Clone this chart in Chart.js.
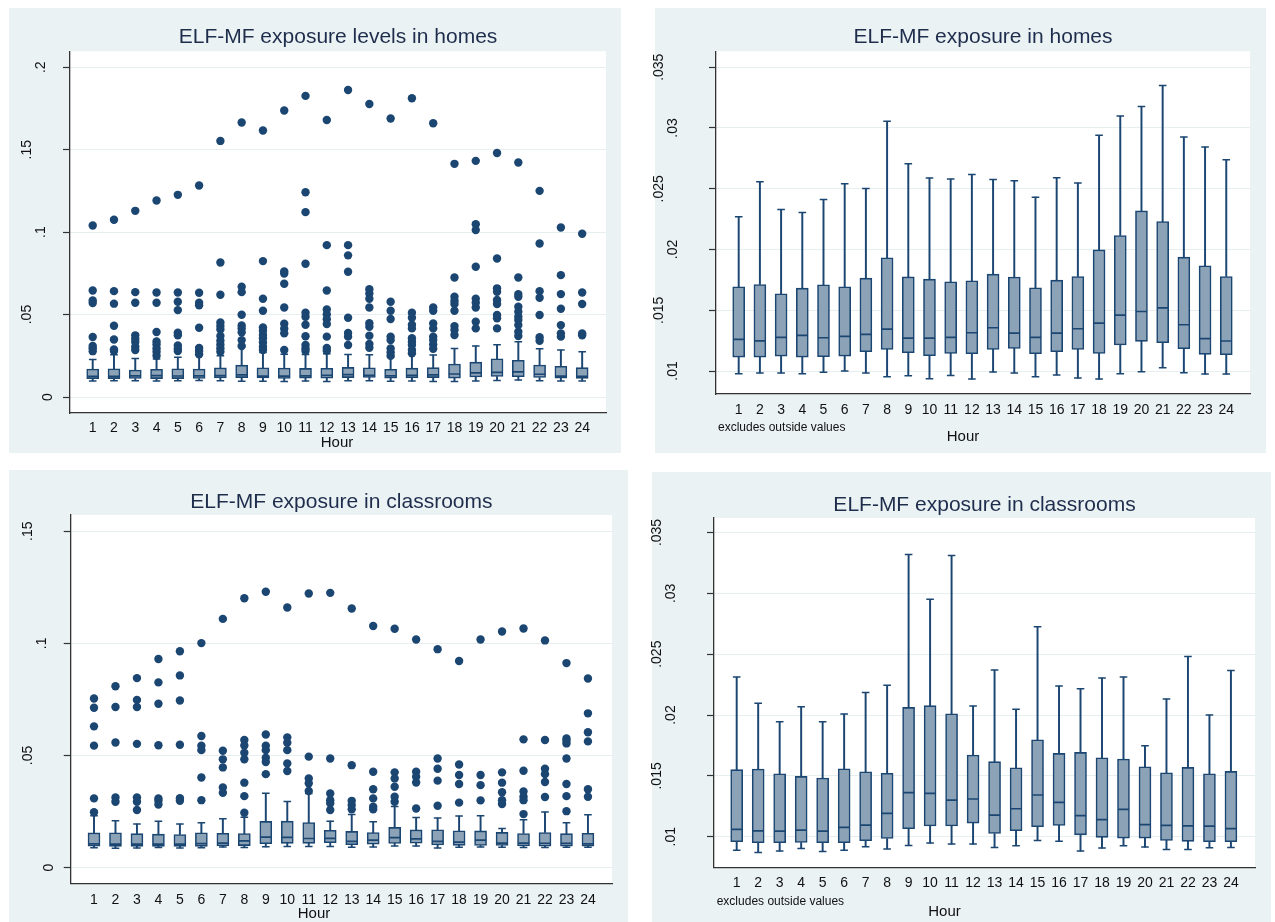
<!DOCTYPE html>
<html>
<head>
<meta charset="utf-8">
<title>ELF-MF exposure by hour</title>
<script src="https://cdn.jsdelivr.net/npm/chart.js@4.4.1/dist/chart.umd.min.js"></script>
<style>
  html, body { margin: 0; padding: 0; background: #ffffff; }
  body { position: relative; width: 1275px; height: 922px; overflow: hidden; }
  .panel { position: absolute; background: #eaf2f3; }
  .holder { position: absolute; }
  .holder canvas { display: block; }
</style>
</head>
<body>
<div class="panel" style="left:9px;top:8px;width:612px;height:445px"></div>
<div class="panel" style="left:655px;top:8px;width:611px;height:445px"></div>
<div class="panel" style="left:9px;top:470px;width:619px;height:452px"></div>
<div class="panel" style="left:652px;top:472px;width:619px;height:450px"></div>

<!-- the right-hand canvases start a little left of their panels so long y labels are not clipped -->
<div class="holder" style="left:9px;top:8px;width:612px;height:445px"><canvas id="homesAll"></canvas></div>
<div class="holder" style="left:643px;top:8px;width:623px;height:445px"><canvas id="homesBox"></canvas></div>
<div class="holder" style="left:9px;top:470px;width:619px;height:452px"><canvas id="classAll"></canvas></div>
<div class="holder" style="left:640px;top:472px;width:631px;height:450px"><canvas id="classBox"></canvas></div>

<script>
// ---- data ----

const hours = [1, 2, 3, 4, 5, 6, 7, 8, 9, 10, 11, 12, 13, 14, 15, 16, 17, 18, 19, 20, 21, 22, 23, 24];

const yTicksHomesAll = [0, 0.05, 0.1, 0.15, 0.2];
const yTicksClassAll = [0, 0.05, 0.1, 0.15];
const yTicksBox = [0.01, 0.015, 0.02, 0.025, 0.03, 0.035];

// homes: adjacent values, quartiles, median
const homesLow = [0.00978, 0.00984, 0.00984, 0.00978, 0.00989, 0.0100, 0.00984, 0.00953, 0.00962, 0.00937, 0.00964, 0.00934,
                  0.00992, 0.00984, 0.00953, 0.00967, 0.00942, 0.00934, 0.00978, 0.00995, 0.01027, 0.00986, 0.00975, 0.00975];
const homesQ1 = [0.01115, 0.01115, 0.01123, 0.01115, 0.01118, 0.01123, 0.01159, 0.01178, 0.01151, 0.01126, 0.01145, 0.01142,
                 0.01178, 0.01186, 0.01142, 0.01159, 0.01178, 0.01145, 0.01214, 0.01244, 0.01233, 0.01184, 0.01137, 0.01134];
const homesMedian = [0.0126, 0.01249, 0.01277, 0.01293, 0.01274, 0.01285, 0.01301, 0.01345, 0.01271, 0.01271, 0.01277, 0.01315,
                     0.01356, 0.01312, 0.01277, 0.01312, 0.01348, 0.01395, 0.0146, 0.0149, 0.0152, 0.01381, 0.01266, 0.01247];
const homesQ3 = [0.01693, 0.01712, 0.01636, 0.01682, 0.0171, 0.01693, 0.01764, 0.01932, 0.01775, 0.01756, 0.01734, 0.01743,
                 0.01797, 0.01773, 0.01685, 0.01748, 0.01778, 0.01997, 0.02115, 0.02318, 0.0223, 0.01937, 0.01866, 0.01778];
const homesHigh = [0.02269, 0.02558, 0.0233, 0.02305, 0.02412, 0.02541, 0.02503, 0.03055, 0.02706, 0.02588, 0.0258, 0.02618,
                   0.02577, 0.02566, 0.02431, 0.02591, 0.02547, 0.0294, 0.03099, 0.03176, 0.03349, 0.02926, 0.02843, 0.02739];
const homesOutside = [
  [0.104, 0.0646, 0.0585, 0.057, 0.0364, 0.031, 0.0295, 0.0278],
  [0.1075, 0.0642, 0.0566, 0.0432, 0.0349, 0.0289, 0.0279],
  [0.1129, 0.0636, 0.0572, 0.0374, 0.0354, 0.0333, 0.0305, 0.0285],
  [0.1192, 0.0634, 0.0572, 0.0394, 0.0337, 0.0319, 0.0295, 0.0275, 0.025],
  [0.1226, 0.0634, 0.0578, 0.0527, 0.039, 0.0374, 0.0313, 0.0293, 0.0279],
  [0.1283, 0.0632, 0.0572, 0.0556, 0.042, 0.0297, 0.0279, 0.0259],
  [0.1553, 0.0816, 0.062, 0.0452, 0.043, 0.041, 0.037, 0.0341, 0.0317, 0.0295, 0.0275],
  [0.1665, 0.0669, 0.0636, 0.0499, 0.0434, 0.0416, 0.0392, 0.0345, 0.0309],
  [0.1616, 0.0824, 0.0596, 0.0523, 0.0422, 0.0402, 0.0376, 0.0356, 0.0331, 0.0305, 0.0285],
  [0.1737, 0.0762, 0.0749, 0.0687, 0.0543, 0.0444, 0.0414, 0.0386, 0.0285],
  [0.1826, 0.1242, 0.1121, 0.0808, 0.0511, 0.0487, 0.0438, 0.0368, 0.0315, 0.0295, 0.0279],
  [0.168, 0.0921, 0.0646, 0.0531, 0.0501, 0.0471, 0.0442, 0.0366, 0.0297, 0.0281],
  [0.1862, 0.0921, 0.0859, 0.076, 0.0481, 0.0388, 0.0366, 0.0315],
  [0.1777, 0.0654, 0.0628, 0.0596, 0.0543, 0.0448, 0.0426, 0.0372, 0.0321, 0.0299],
  [0.1689, 0.0578, 0.0523, 0.0473, 0.0366, 0.0345, 0.0295, 0.0271, 0.025],
  [0.1812, 0.0511, 0.0481, 0.0438, 0.0416, 0.0356, 0.0335, 0.0315, 0.0285, 0.0265],
  [0.166, 0.0543, 0.0523, 0.0446, 0.0416, 0.0366, 0.0345, 0.0319, 0.0293],
  [0.1414, 0.0725, 0.0608, 0.0584, 0.0564, 0.0523, 0.043, 0.0406, 0.0376],
  [0.1432, 0.1048, 0.1012, 0.079, 0.0596, 0.0572, 0.0543, 0.0456, 0.0416],
  [0.148, 0.084, 0.0659, 0.0638, 0.0588, 0.0564, 0.0497, 0.0477, 0.0416],
  [0.1422, 0.0725, 0.0624, 0.0608, 0.0547, 0.0517, 0.0487, 0.0467, 0.0436, 0.0396, 0.037],
  [0.125, 0.0931, 0.0642, 0.0602, 0.0497, 0.0362, 0.0341],
  [0.1028, 0.0739, 0.0624, 0.0535, 0.0436, 0.0386, 0.0366],
  [0.099, 0.0634, 0.0564, 0.0386, 0.0374]
];

// classrooms: adjacent values, quartiles, median
const classLow = [0.0089, 0.00871, 0.00882, 0.00904, 0.00879, 0.0089, 0.00918, 0.00899, 0.00929, 0.00948, 0.0094, 0.0094,
                  0.00912, 0.00926, 0.0097, 0.00964, 0.00882, 0.00907, 0.00926, 0.00915, 0.00896, 0.00896, 0.0091, 0.00912];
const classQ1 = [0.00959, 0.00951, 0.00951, 0.00953, 0.00951, 0.00951, 0.00967, 0.00986, 0.01066, 0.01088, 0.01088, 0.01112,
                 0.01027, 0.01049, 0.01082, 0.01093, 0.01016, 0.00995, 0.00989, 0.00989, 0.0097, 0.00962, 0.00959, 0.00959];
const classMedian = [0.0106, 0.01049, 0.01047, 0.01055, 0.01047, 0.01077, 0.01096, 0.01192, 0.01362, 0.01356, 0.01301, 0.0131,
                     0.01178, 0.0123, 0.01343, 0.01282, 0.01173, 0.0114, 0.01225, 0.01099, 0.01093, 0.0109, 0.01088, 0.01066];
const classQ3 = [0.01551, 0.01556, 0.01518, 0.01496, 0.01482, 0.01559, 0.01534, 0.01521, 0.02063, 0.02077, 0.02011, 0.01671,
                 0.01617, 0.01567, 0.01797, 0.01685, 0.01693, 0.01649, 0.01638, 0.01575, 0.01526, 0.0157, 0.01518, 0.01537];
const classHigh = [0.02312, 0.02096, 0.01945, 0.02069, 0.01945, 0.02008, 0.02186, 0.02244, 0.0332, 0.02951, 0.0331, 0.02074,
                   0.0237, 0.02047, 0.02726, 0.02238, 0.02217, 0.02304, 0.02312, 0.01748, 0.02132, 0.0248, 0.02, 0.02365];
const classOutside = [
  [0.0754, 0.0713, 0.063, 0.0544, 0.0309, 0.0247],
  [0.0809, 0.0716, 0.0558, 0.0313, 0.0294],
  [0.0845, 0.0748, 0.0716, 0.0552, 0.0313, 0.0294, 0.0257],
  [0.093, 0.0826, 0.0731, 0.0546, 0.0309, 0.0298, 0.0282],
  [0.0965, 0.0857, 0.0745, 0.0548, 0.031, 0.0298],
  [0.1001, 0.0587, 0.0544, 0.0524, 0.0402, 0.0301],
  [0.1109, 0.0521, 0.0483, 0.0447, 0.0358, 0.0334],
  [0.1201, 0.0569, 0.0545, 0.0512, 0.0483, 0.0379, 0.0319, 0.0245],
  [0.123, 0.0594, 0.0544, 0.0524, 0.049, 0.0471, 0.0417],
  [0.116, 0.0581, 0.0557, 0.0524, 0.0465, 0.0431],
  [0.1222, 0.0495, 0.0398, 0.0376, 0.0342],
  [0.1225, 0.0487, 0.0331, 0.0301, 0.0287, 0.0257],
  [0.1155, 0.0457, 0.0298, 0.0279, 0.026],
  [0.1077, 0.0428, 0.035, 0.0309, 0.0272, 0.026],
  [0.1065, 0.0425, 0.0398, 0.0361, 0.0316, 0.0294],
  [0.1017, 0.0428, 0.0405, 0.038, 0.0264],
  [0.0974, 0.0487, 0.0441, 0.0388, 0.0276],
  [0.0921, 0.046, 0.0413, 0.0373, 0.029],
  [0.1017, 0.0413, 0.0368, 0.03],
  [0.1053, 0.0425, 0.0379, 0.0336, 0.0301, 0.0284],
  [0.1066, 0.0572, 0.0432, 0.034, 0.0316, 0.0301, 0.0239],
  [0.1013, 0.0569, 0.0441, 0.0417, 0.0382, 0.0315],
  [0.0912, 0.0576, 0.0566, 0.0554, 0.0487, 0.0373, 0.0319, 0.0252],
  [0.0843, 0.0688, 0.0604, 0.0563, 0.035, 0.0316]
];

// ---- style ----

const FONT = '"Liberation Sans", Arial, Helvetica, sans-serif';
const NAVY = '#1b4672';
const BOX_FILL = '#8ca3b7';
const GRID = '#e6eef0';
const AXIS = '#333333';
const TEXT = '#111111';
const TITLE = '#1f2d4d';

// stata-style tick text: .05 instead of 0.05
function shortNum(v) {
  if (v === 0) return '0';
  return String(+v.toFixed(4)).replace(/^0\./, '.');
}

// white plot region on the tinted panel
const plotRegion = {
  id: 'plotRegion',
  beforeDraw(chart) {
    const { ctx, chartArea: a } = chart;
    ctx.save();
    ctx.fillStyle = '#ffffff';
    ctx.fillRect(a.left, a.top, a.right - a.left, a.bottom - a.top);
    ctx.restore();
  }
};

// vertical y labels, drawn off the y scale ticks
const verticalYLabels = {
  id: 'verticalYLabels',
  afterDraw(chart) {
    const scale = chart.scales.y;
    const ctx = chart.ctx;
    ctx.save();
    ctx.font = '14px ' + FONT;
    ctx.fillStyle = TEXT;
    ctx.textAlign = 'center';
    ctx.textBaseline = 'middle';
    scale.ticks.forEach(t => {
      const label = shortNum(t.value);
      const w = ctx.measureText(label).width;
      ctx.save();
      ctx.translate(scale.right - 8 - 1.8 * w, scale.getPixelForValue(t.value));
      ctx.rotate(-Math.PI / 2);
      ctx.fillText(label, 0, 0);
      ctx.restore();
    });
    ctx.restore();
  }
};

// axis caption and footnote
const captions = {
  id: 'captions',
  afterDraw(chart, args, opts) {
    const ctx = chart.ctx;
    ctx.save();
    ctx.fillStyle = TEXT;
    ctx.textBaseline = 'middle';
    (opts.items || []).forEach(it => {
      ctx.font = it.size + 'px ' + FONT;
      ctx.textAlign = it.align || 'center';
      ctx.fillText(it.text, it.x, it.y);
    });
    ctx.restore();
  }
};

function points(values) {
  return hours.map((h, i) => ({ x: h, y: values[i] }));
}

function boxDatasets(low, q1, med, q3, high, outside) {
  const sets = [
    {
      type: 'scatter', label: 'adjacent values', order: 1,
      data: points(low).concat(points(high)),
      pointStyle: 'line', pointRadius: 3.8, pointHoverRadius: 3.8,
      borderColor: NAVY, borderWidth: 1.5
    },
    {
      type: 'scatter', label: 'median', order: 2,
      data: points(med),
      pointStyle: 'line', pointRadius: 5.6, pointHoverRadius: 5.6,
      borderColor: NAVY, borderWidth: 1.7
    },
    {
      type: 'bar', label: 'IQR', order: 3, grouped: false,
      data: hours.map((h, i) => ({ x: h, y: [q1[i], q3[i]] })),
      backgroundColor: BOX_FILL, borderColor: NAVY, borderWidth: 1.6,
      borderSkipped: false, barThickness: 12
    },
    {
      type: 'bar', label: 'upper whisker', order: 4, grouped: false,
      data: hours.map((h, i) => ({ x: h, y: [q3[i], high[i]] })),
      backgroundColor: NAVY, borderWidth: 0, barThickness: 1.3
    },
    {
      type: 'bar', label: 'lower whisker', order: 4, grouped: false,
      data: hours.map((h, i) => ({ x: h, y: [low[i], q1[i]] })),
      backgroundColor: NAVY, borderWidth: 0, barThickness: 1.3
    }
  ];
  if (outside) {
    const pts = [];
    outside.forEach((vals, i) => vals.forEach(v => pts.push({ x: hours[i], y: v })));
    sets.unshift({
      type: 'scatter', label: 'outside values', order: 0,
      data: pts,
      pointStyle: 'circle', pointRadius: 4.2, pointHoverRadius: 4.2,
      backgroundColor: NAVY, borderColor: NAVY, borderWidth: 0
    });
  }
  return sets;
}

function makeChart(id, cfg) {
  new Chart(document.getElementById(id), {
    type: 'bar',
    data: { datasets: cfg.datasets },
    plugins: [plotRegion, verticalYLabels, captions],
    options: {
      responsive: true,
      maintainAspectRatio: false,
      animation: false,
      layout: { autoPadding: false, padding: { top: 0, left: 0, bottom: 0, right: cfg.padRight } },
      plugins: {
        legend: { display: false },
        tooltip: { enabled: true },
        title: {
          display: true, text: cfg.title, color: TITLE, fullSize: false,
          font: { family: FONT, size: 21, weight: 'normal' },
          padding: cfg.titlePad
        },
        captions: { items: cfg.captions }
      },
      scales: {
        x: {
          type: 'linear', min: cfg.xMin, max: 25.12, offset: false,
          afterBuildTicks: s => { s.ticks = hours.map(h => ({ value: h })); },
          afterFit: s => { s.height = cfg.xHeight; },
          grid: { display: false, drawTicks: false },
          border: { display: true, color: AXIS, width: 1.3 },
          ticks: {
            color: TEXT, padding: cfg.xLabelPad, autoSkip: false, maxRotation: 0,
            font: { family: FONT, size: 14 },
            callback: v => String(v)
          }
        },
        y: {
          type: 'linear', min: cfg.yMin, max: cfg.yMax,
          afterBuildTicks: s => { s.ticks = cfg.yTicks.map(v => ({ value: v })); },
          afterFit: s => { s.width = cfg.yWidth; },
          grid: { color: GRID, lineWidth: 1, drawTicks: true, tickLength: 7, tickColor: AXIS, tickWidth: 1.2 },
          border: { display: true, color: AXIS, width: 1.3 },
          ticks: { display: false }
        }
      }
    }
  });
}

makeChart('homesAll', {
  title: 'ELF-MF exposure levels in homes',
  datasets: boxDatasets(homesLow, homesQ1, homesMedian, homesQ3, homesHigh, homesOutside),
  yTicks: yTicksHomesAll, yMin: -0.0097, yMax: 0.2097,
  xMin: -0.067, yWidth: 61, xHeight: 40, padRight: 15, xLabelPad: 6.5,
  titlePad: { top: 16.5, bottom: 1.5 },
  captions: [{ text: 'Hour', x: 328, y: 435, size: 15 }]
});

makeChart('homesBox', {
  title: 'ELF-MF exposure in homes',
  datasets: boxDatasets(homesLow, homesQ1, homesMedian, homesQ3, homesHigh, null),
  yTicks: yTicksBox, yMin: 0.00811, yMax: 0.03632,
  xMin: -0.071, yWidth: 73, xHeight: 59, padRight: 16, xLabelPad: 7.5,
  titlePad: { top: 16.5, bottom: 1.5 },
  captions: [
    { text: 'excludes outside values', x: 75, y: 420, size: 12, align: 'left' },
    { text: 'Hour', x: 320, y: 429, size: 15 }
  ]
});

makeChart('classAll', {
  title: 'ELF-MF exposure in classrooms',
  datasets: boxDatasets(classLow, classQ1, classMedian, classQ3, classHigh, classOutside),
  yTicks: yTicksClassAll, yMin: -0.00695, yMax: 0.1572,
  xMin: -0.085, yWidth: 61.7, xHeight: 38.7, padRight: 16, xLabelPad: 8,
  titlePad: { top: 19.4, bottom: 0.4 },
  captions: [{ text: 'Hour', x: 305, y: 444, size: 15 }]
});

makeChart('classBox', {
  title: 'ELF-MF exposure in classrooms',
  datasets: boxDatasets(classLow, classQ1, classMedian, classQ3, classHigh, null),
  yTicks: yTicksBox, yMin: 0.00749, yMax: 0.03619,
  xMin: -0.056, yWidth: 74, xHeight: 54.7, padRight: 16, xLabelPad: 7,
  titlePad: { top: 20.4, bottom: 0.4 },
  captions: [
    { text: 'excludes outside values', x: 76.7, y: 429.7, size: 12, align: 'left' },
    { text: 'Hour', x: 304.5, y: 440, size: 15 }
  ]
});
</script>
</body>
</html>
